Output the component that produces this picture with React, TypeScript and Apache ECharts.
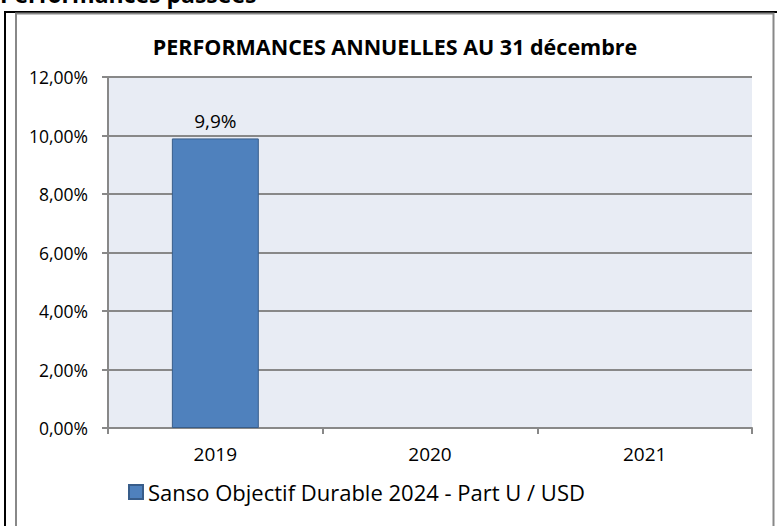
import React, { useEffect, useRef } from "react";
import * as echarts from "echarts";

const categories = ["2019", "2020", "2021"];
const seriesName = "Sanso Objectif Durable 2024 - Part U / USD";
const values: (number | null)[] = [9.9, null, null];
const yTicks = [0, 2, 4, 6, 8, 10, 12];
const chartTitle = "PERFORMANCES ANNUELLES AU 31 décembre";
const pageTitle = "Performances passées";

const FONT = "'Open Sans', 'Noto Sans', sans-serif";

export default function App() {
  const ref = useRef<HTMLDivElement>(null);
  useEffect(() => {
    document.body.style.margin = "0";
    const chart = echarts.init(ref.current!, null, { renderer: "svg" });
    chart.setOption({
      animation: false,
      backgroundColor: "#ffffff",
      graphic: [
        {
          type: "rect",
          shape: { x: 5, y: 12, width: 790, height: 600 },
          style: { fill: "none", stroke: "#000000", lineWidth: 2 },
          z: 0,
        },
        {
          type: "rect",
          shape: { x: 16, y: 13.5, width: 757.5, height: 600 },
          style: { fill: "none", stroke: "#888888", lineWidth: 2 },
          z: 0,
        },
        {
          type: "text",
          x: 0,
          y: -6,
          style: {
            text: pageTitle,
            font: `bold 23px ${FONT}`,
            fill: "#000000",
            verticalAlign: "middle",
          },
        },
        {
          type: "text",
          x: 395,
          y: 46,
          style: {
            text: chartTitle,
            font: `bold 21.5px ${FONT}`,
            fill: "#000000",
            align: "center",
            verticalAlign: "middle",
          },
        },
      ],
      legend: {
        data: [seriesName],
        left: 128,
        top: 481,
        padding: 0,
        itemWidth: 14,
        itemHeight: 14,
        itemGap: 4,
        icon: "rect",
        textStyle: { fontFamily: FONT, fontSize: 22, color: "#000000", padding: [0, 0, 0, 0] },
      },
      grid: {
        left: 108,
        right: 25,
        top: 77,
        bottom: 98,
        show: true,
        backgroundColor: "#E8ECF4",
        borderWidth: 0,
      },
      xAxis: {
        type: "category",
        data: categories,
        axisLine: { show: true, lineStyle: { color: "#888888", width: 2 } },
        axisTick: { show: true, alignWithLabel: false, length: 6, lineStyle: { color: "#888888", width: 2 } },
        axisLabel: { color: "#000000", fontFamily: FONT, fontSize: 19, margin: 16 },
      },
      yAxis: {
        type: "value",
        min: yTicks[0],
        max: yTicks[yTicks.length - 1],
        interval: 2,
        axisLine: { show: true, lineStyle: { color: "#888888", width: 2 } },
        axisTick: { show: true, length: 6, lineStyle: { color: "#888888", width: 2 } },
        splitLine: { show: true, lineStyle: { color: "#888888", width: 2 } },
        axisLabel: {
          color: "#000000",
          fontFamily: FONT,
          fontSize: 17.5,
          margin: 20,
          formatter: (v: number) => v.toFixed(2).replace(".", ",") + "%",
        },
      },
      series: [
        {
          name: seriesName,
          type: "bar",
          data: values,
          barWidth: "40.5%",
          itemStyle: { color: "#4F81BD", borderColor: "#385D8A", borderWidth: 1 },
          label: {
            show: true,
            position: "top",
            distance: 8,
            color: "#000000",
            fontFamily: FONT,
            fontSize: 19,
            formatter: (p: any) => (p.value == null ? "" : String(p.value).replace(".", ",") + "%"),
          },
        },
      ],
    });
    return () => chart.dispose();
  }, []);
  return <div ref={ref} style={{ width: 777, height: 526 }} />;
}
